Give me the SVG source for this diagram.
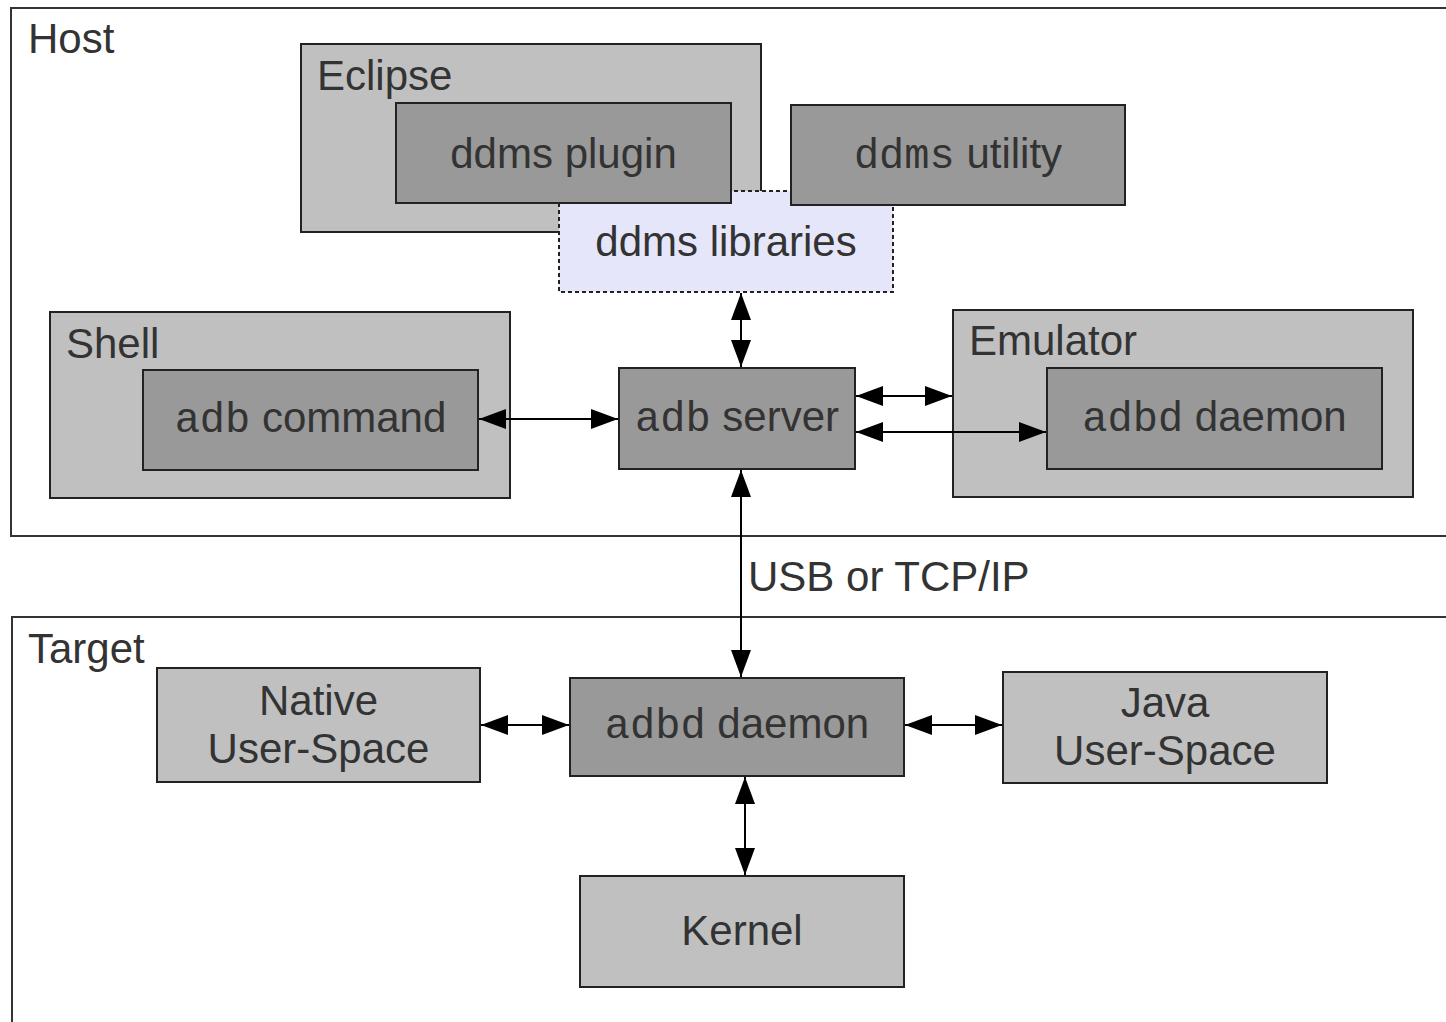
<svg xmlns="http://www.w3.org/2000/svg" width="1446" height="1022" viewBox="0 0 1446 1022">
<style>
  .t { font-family: "Liberation Sans", Arial, sans-serif; font-size: 42px; fill: #333; }
  .m { font-family: "Liberation Mono", "Courier New", monospace; }
  .c { text-anchor: middle; }
  .frame { fill: #ffffff; stroke: #333; stroke-width: 2; }
  .outer { fill: #c0c0c0; stroke: #222; stroke-width: 2; }
  .inner { fill: #999999; stroke: #222; stroke-width: 2; }
  .lib { fill: #e6e6fa; stroke: #222; stroke-width: 2; stroke-dasharray: 4 3; }
  .conn { stroke: #000; stroke-width: 2; fill: none; marker-start: url(#ah); marker-end: url(#ah); }
</style>
<defs>
  <marker id="ah" markerUnits="userSpaceOnUse" markerWidth="27" markerHeight="20" refX="27" refY="10" orient="auto-start-reverse">
    <path d="M0,0 L27,10 L0,20 z" fill="#000"/>
  </marker>
</defs>
<rect width="1446" height="1022" fill="#fff"/>

<g id="host">
  <rect class="frame" x="11" y="8" width="1450" height="528"/>
  <text class="t" x="28" y="53">Host</text>
</g>
<g id="target">
  <rect class="frame" x="12" y="617" width="1450" height="420"/>
  <text class="t" x="28" y="663">Target</text>
</g>

<g id="eclipse">
  <rect class="outer" x="301" y="44" width="460" height="188"/>
  <text class="t" x="317" y="90">Eclipse</text>
</g>
<g id="ddms-libraries">
  <rect class="lib" x="559" y="191" width="334" height="101"/>
  <text class="t c" x="726" y="256">ddms libraries</text>
</g>
<g id="ddms-plugin">
  <rect class="inner" x="396" y="103" width="335" height="100"/>
  <text class="t c" x="563.5" y="168">ddms plugin</text>
</g>
<g id="ddms-utility">
  <rect class="inner" x="791" y="105" width="334" height="100"/>
  <text class="t c" x="958" y="168"><tspan class="m">ddms</tspan> utility</text>
</g>

<g id="shell">
  <rect class="outer" x="50" y="312" width="460" height="186"/>
  <text class="t" x="66" y="358">Shell</text>
</g>
<g id="adb-command">
  <rect class="inner" x="143" y="370" width="335" height="100"/>
  <text class="t c" x="310.5" y="432"><tspan class="m">adb</tspan> command</text>
</g>
<g id="adb-server">
  <rect class="inner" x="619" y="368" width="236" height="101"/>
  <text class="t c" x="737" y="431"><tspan class="m">adb</tspan> server</text>
</g>
<g id="emulator">
  <rect class="outer" x="953" y="310" width="460" height="187"/>
  <text class="t" x="969" y="355">Emulator</text>
</g>
<g id="emu-adbd-daemon">
  <rect class="inner" x="1047" y="368" width="335" height="101"/>
  <text class="t c" x="1214.5" y="431"><tspan class="m">adbd</tspan> daemon</text>
</g>

<g id="native-user-space">
  <rect class="outer" x="157" y="668" width="323" height="114"/>
  <text class="t c" x="318.5" y="715">Native</text>
  <text class="t c" x="318.5" y="763">User-Space</text>
</g>
<g id="target-adbd-daemon">
  <rect class="inner" x="570" y="678" width="334" height="98"/>
  <text class="t c" x="737" y="738"><tspan class="m">adbd</tspan> daemon</text>
</g>
<g id="java-user-space">
  <rect class="outer" x="1003" y="672" width="324" height="111"/>
  <text class="t c" x="1165" y="717">Java</text>
  <text class="t c" x="1165" y="765">User-Space</text>
</g>
<g id="kernel">
  <rect class="outer" x="580" y="876" width="324" height="111"/>
  <text class="t c" x="742" y="945">Kernel</text>
</g>

<g id="connectors">
  <line class="conn" x1="741" y1="293" x2="741" y2="367"/>
  <line class="conn" x1="479" y1="419" x2="618" y2="419"/>
  <line class="conn" x1="856" y1="396" x2="952" y2="396"/>
  <line class="conn" x1="856" y1="432" x2="1046" y2="432"/>
  <line class="conn" x1="741" y1="470" x2="741" y2="677"/>
  <line class="conn" x1="481" y1="725" x2="569" y2="725"/>
  <line class="conn" x1="905" y1="725" x2="1002" y2="725"/>
  <line class="conn" x1="745" y1="777" x2="745" y2="875"/>
  <text class="t" x="748" y="591">USB or TCP/IP</text>
</g>
</svg>
